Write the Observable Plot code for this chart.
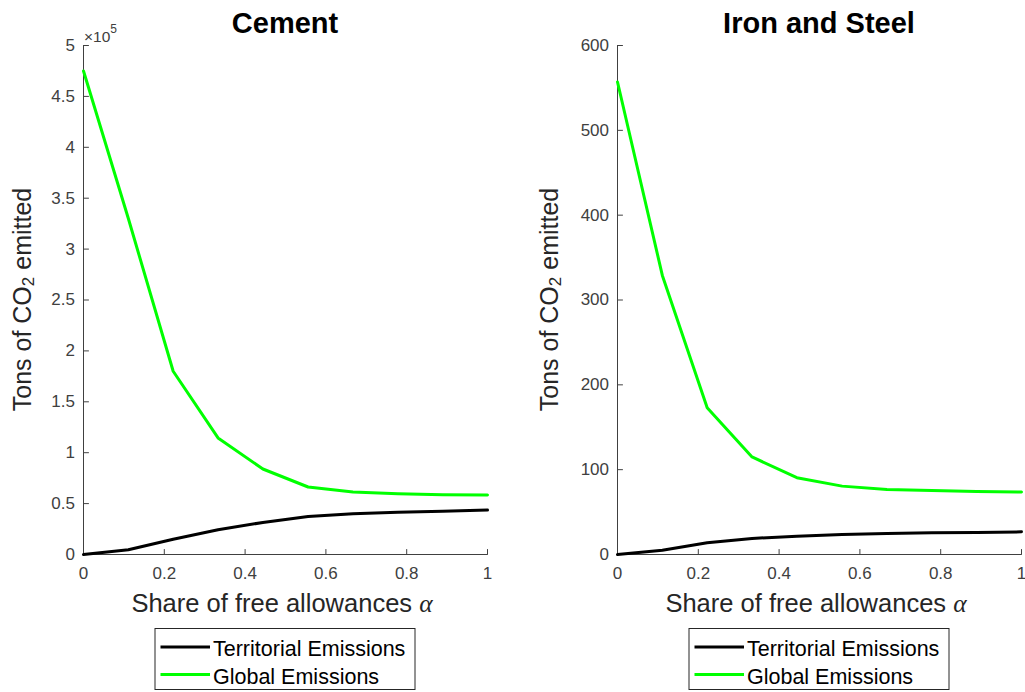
<!DOCTYPE html>
<html>
<head>
<meta charset="utf-8">
<script src="https://cdn.jsdelivr.net/npm/d3@7"></script>
<script src="https://cdn.jsdelivr.net/npm/@observablehq/plot@0.6"></script>
<style>
  html, body { margin: 0; padding: 0; background: #fff; }
  #fig { position: relative; width: 1025px; height: 692px; overflow: hidden;
         font-family: "Liberation Sans", Arial, sans-serif; }
  #fig svg { position: absolute; top: 0; overflow: visible; }
  #fig svg g[aria-label$="tick label"] text { font-size: 17px !important; }
</style>
</head>
<body>
<div id="fig"></div>
<script>
// Share of free allowances (alpha), common to both sectors
const alpha = [0, 0.111, 0.222, 0.333, 0.444, 0.556, 0.667, 0.778, 0.889, 1];

// Cement, tons of CO2
const cementTerritorial = [0, 4600, 15000, 24300, 31500, 37400, 40000, 41600, 42600, 43600];
const cementGlobal = [475000, 330000, 180000, 114500, 84000, 66300, 61300, 59700, 58700, 58400];

// Iron and steel, tons of CO2
const steelTerritorial = [0, 5, 13.8, 18.9, 21.6, 23.6, 24.8, 25.5, 26, 26.7];
const steelGlobal = [557, 329, 173, 115, 90.5, 80.6, 76.7, 75.5, 74.4, 73.6];

// Tick values
const xTicks = [0, 0.2, 0.4, 0.6, 0.8, 1];
const cementYTicks = [0, 50000, 100000, 150000, 200000, 250000, 300000, 350000, 400000, 450000, 500000];
const steelYTicks = [0, 100, 200, 300, 400, 500, 600];

// Text
const seriesNames = ["Territorial Emissions", "Global Emissions"];
const seriesColors = ["#000000", "#00ff00"];
const xLabel = "Share of free allowances ";
const yLabelParts = ["Tons of CO", "2", " emitted"];

const AXIS = "#404040";
const TICK_LEN = 5;
const fig = document.getElementById("fig");

// A plain stroke from the anchor point, drawn "upwards" before rotation
const tickShape = {draw(context, l) { context.moveTo(0, 0); context.lineTo(0, -l); }};

function panel({left, width, marginLeft, marginRight, title, yTicks, yMax, yFormat,
                territorial, global, exponent, yLabelGap}) {
  const rows = alpha.map((a, i) => ({a, territorial: territorial[i], global: global[i]}));
  const chart = Plot.plot({
    width, height: 692,
    marginLeft, marginRight, marginTop: 45, marginBottom: 138,
    style: {fontFamily: '"Liberation Sans", Arial, sans-serif', fontSize: "17px",
            color: AXIS, background: "transparent", overflow: "visible"},
    x: {domain: [0, 1]},
    y: {domain: [0, yMax]},
    marks: [
      Plot.ruleX([0], {stroke: AXIS}),
      Plot.ruleY([0], {stroke: AXIS}),
      // inward tick marks
      Plot.vector(xTicks, {x: d => d, y: 0, rotate: 0, length: TICK_LEN, anchor: "start",
                           shape: tickShape, stroke: AXIS, strokeWidth: 1}),
      Plot.vector(yTicks, {x: 0, y: d => d, rotate: 90, length: TICK_LEN, anchor: "start",
                           shape: tickShape, stroke: AXIS, strokeWidth: 1}),
      Plot.axisX({ticks: xTicks, tickSize: 0, tickPadding: 12, label: null,
                  fill: AXIS, tickFormat: d => String(d)}),
      Plot.axisY({ticks: yTicks, tickSize: 0, tickPadding: 8.5, label: null,
                  fill: AXIS, tickFormat: yFormat}),
      Plot.line(rows, {x: "a", y: "territorial", stroke: seriesColors[0], strokeWidth: 3}),
      Plot.line(rows, {x: "a", y: "global", stroke: seriesColors[1], strokeWidth: 3})
    ]
  });
  chart.style.left = left + "px";
  fig.appendChild(chart);

  const [x0, x1] = chart.scale("x").range;
  const [yb, yt] = chart.scale("y").range;
  const cx = (x0 + x1) / 2;
  const cy = (yb + yt) / 2;
  const svg = d3.select(chart);

  // Title
  svg.append("text")
    .attr("x", cx).attr("y", 33)
    .attr("text-anchor", "middle")
    .style("font-size", "29px").attr("font-weight", "bold").attr("fill", "#000")
    .text(title);

  // Exponent above the y axis
  if (exponent) {
    const t = svg.append("text")
      .attr("x", x0 + 1).attr("y", yt - 3.5)
      .attr("text-anchor", "start")
      .style("font-size", "15.5px").attr("fill", AXIS);
    t.append("tspan").text("\u00d710");
    t.append("tspan").style("font-size", "12px").attr("dy", -8.5).text(exponent);
  }

  // x-axis label
  const xl = svg.append("text")
    .attr("x", cx - 3).attr("y", 612)
    .attr("text-anchor", "middle")
    .style("font-size", "25.5px").attr("fill", "#262626");
  xl.append("tspan").text(xLabel);
  xl.append("tspan").attr("font-family", '"Liberation Serif", serif')
    .attr("font-style", "italic").text("\u03b1");

  // y-axis label with subscript
  const yl = svg.append("text")
    .attr("transform", `translate(${x0 - yLabelGap},${cy}) rotate(-90)`)
    .attr("text-anchor", "middle")
    .style("font-size", "25px").attr("fill", "#262626");
  yl.append("tspan").text(yLabelParts[0]);
  yl.append("tspan").style("font-size", "17px").attr("dy", 3).text(yLabelParts[1]);
  yl.append("tspan").attr("dy", -3).text(yLabelParts[2]);

  // Legend
  const lg = svg.append("g").attr("text-anchor", "start");
  lg.append("rect")
    .attr("x", cx - 130).attr("y", 628.5)
    .attr("width", 260).attr("height", 61)
    .attr("fill", "#fff").attr("stroke", "#262626").attr("stroke-width", 1);
  const rowsY = [647, 674.5];
  seriesNames.forEach((name, i) => {
    lg.append("line")
      .attr("x1", cx - 124.5).attr("x2", cx - 75)
      .attr("y1", rowsY[i]).attr("y2", rowsY[i])
      .attr("stroke", seriesColors[i]).attr("stroke-width", 3);
    lg.append("text")
      .attr("x", cx - 72).attr("y", rowsY[i] + 9)
      .attr("text-anchor", "start")
      .style("font-size", "21.5px").attr("fill", "#000")
      .text(name);
  });
}

panel({
  left: 0, width: 512, marginLeft: 83, marginRight: 25,
  title: "Cement", yTicks: cementYTicks, yMax: 500000,
  yFormat: d => String(d / 1e5),
  territorial: cementTerritorial, global: cementGlobal,
  exponent: "5", yLabelGap: 52
});

panel({
  left: 512, width: 513, marginLeft: 105, marginRight: 4,
  title: "Iron and Steel", yTicks: steelYTicks, yMax: 600,
  yFormat: d => String(d),
  territorial: steelTerritorial, global: steelGlobal,
  exponent: null, yLabelGap: 59
});
</script>
</body>
</html>
